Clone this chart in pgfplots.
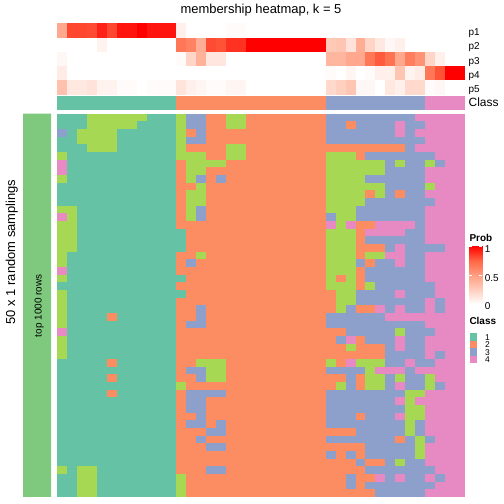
\documentclass[border=0pt]{standalone}
\usepackage{fontspec}
\setmainfont{Liberation Sans}
\usepackage{pgfplots}
\usepackage{pgfplotstable}
\pgfplotsset{compat=1.18}

\definecolor{leftgreen}{RGB}{127,201,127}

\pgfplotsset{
  colormap={cls}{rgb255(0cm)=(102,194,165) rgb255(1cm)=(252,141,98) rgb255(2cm)=(141,160,203) rgb255(3cm)=(231,138,195) rgb255(4cm)=(166,216,84)},
  colormap={prob}{rgb255(0cm)=(255,255,255) rgb255(1cm)=(255,207,191) rgb255(2cm)=(255,158,129) rgb255(3cm)=(255,104,70) rgb255(4cm)=(255,0,0)},
}

\pgfdeclareplotmark{hcell}{\pgfpathrectangle{\pgfpoint{-5.0bp}{-3.86bp}}{\pgfpoint{10.0bp}{7.72bp}}\pgfusepathqfill}
\pgfdeclareplotmark{pcell}{\pgfpathrectangle{\pgfpoint{-5.0bp}{-7.12bp}}{\pgfpoint{10.0bp}{14.24bp}}\pgfusepathqfill}
\pgfdeclareplotmark{ccell}{\pgfpathrectangle{\pgfpoint{-5.0bp}{-7.0bp}}{\pgfpoint{10.0bp}{14.0bp}}\pgfusepathqfill}
\pgfdeclareplotmark{lcell}{\pgfpathrectangle{\pgfpoint{-3.65bp}{-3.7bp}}{\pgfpoint{7.3bp}{7.4bp}}\pgfusepathqfill}

% membership classes: 50 samplings (rows) x 41 samples (columns); 5 = fifth class (green)
\pgfplotstableread[header=false]{
1 1 1 5 5 5 5 5 5 1 1 1  5 3 3 2 2 5 5 2 2 2 2 2 2 2 2  3 3 3 3 3 3 3 3 3 4  4 4 4 4
1 1 1 5 5 5 5 5 1 1 1 1  5 3 3 2 2 5 5 2 2 2 2 2 2 2 2  3 3 2 3 3 3 3 4 3 3  4 4 4 4
3 1 5 5 5 5 1 1 1 1 1 1  5 2 3 2 2 2 2 2 2 2 2 2 2 2 2  3 3 3 3 3 3 3 4 3 4  4 4 4 4
1 1 5 5 5 5 1 1 1 1 1 1  5 3 3 2 2 2 2 2 2 2 2 2 2 2 2  3 3 3 3 3 3 3 3 3 3  4 4 4 4
1 1 1 5 5 5 1 1 1 1 1 1  5 2 2 2 2 5 5 2 2 2 2 2 2 2 2  2 2 2 2 2 2 2 2 3 4  4 4 4 4
5 1 1 1 1 1 1 1 1 1 1 1  5 5 5 2 2 5 5 2 2 2 2 2 2 2 2  5 5 5 2 3 3 3 3 3 3  3 4 4 4
4 1 1 1 1 1 1 1 1 1 1 1  2 5 5 5 5 2 2 2 2 2 2 2 2 2 2  5 5 5 5 5 5 3 5 3 3  5 3 4 4
4 1 1 1 1 1 1 1 1 1 1 1  2 5 5 2 2 2 2 2 2 2 2 2 2 2 2  5 5 5 5 5 5 3 3 3 3  4 4 4 4
5 1 1 1 1 1 1 1 1 1 1 1  2 5 3 2 3 2 2 2 2 2 2 2 2 2 2  5 5 5 5 3 3 3 3 3 3  4 4 4 4
1 1 1 1 1 1 1 1 1 1 1 1  2 2 5 2 2 2 2 2 2 2 2 2 2 2 2  5 5 5 5 5 5 3 3 3 3  5 4 4 4
1 1 1 1 1 1 1 1 1 1 1 1  2 5 5 2 2 2 2 2 2 2 2 2 2 2 2  5 5 5 5 2 5 3 2 3 3  4 4 4 4
1 1 1 1 1 1 1 1 1 1 1 1  2 5 5 2 2 2 2 2 2 2 2 2 2 2 2  5 5 5 5 3 3 3 3 3 3  3 4 4 4
5 5 1 1 1 1 1 1 1 1 1 1  2 5 3 2 2 2 2 2 2 2 2 2 2 2 2  5 5 5 3 3 3 3 3 3 3  4 4 4 4
4 5 1 1 1 1 1 1 1 1 1 1  2 5 3 2 2 2 2 2 2 2 2 2 2 2 2  3 5 5 3 3 3 3 3 3 3  4 4 4 4
5 5 1 1 1 1 1 1 1 1 1 1  2 2 2 2 2 2 2 2 2 2 2 2 2 2 2  4 5 4 2 2 4 4 4 4 3  4 4 4 4
5 5 1 1 1 1 1 1 1 1 1 1  1 2 2 2 2 2 2 2 2 2 2 2 2 2 2  5 5 5 2 4 4 4 4 3 3  4 4 4 4
5 5 1 1 1 1 1 1 1 1 1 1  1 2 2 2 2 2 2 2 2 2 2 2 2 2 2  5 5 5 2 3 3 3 3 3 3  4 4 4 4
5 5 1 1 1 1 1 1 1 1 1 1  1 2 2 2 2 2 2 2 2 2 2 2 2 2 2  5 5 5 2 2 2 3 4 3 3  3 3 4 4
5 1 1 1 1 1 1 1 1 1 1 1  2 2 5 2 2 2 2 2 2 2 2 2 2 2 2  5 5 5 2 5 5 4 4 3 3  4 4 4 4
5 1 1 1 1 1 1 1 1 1 1 1  2 3 2 2 2 2 2 2 2 2 2 2 2 2 2  5 5 5 3 2 3 3 4 3 3  4 4 4 4
4 1 1 1 1 1 1 1 1 1 1 1  2 2 2 2 2 2 2 2 2 2 2 2 2 2 2  5 5 5 2 3 3 3 3 3 3  4 4 4 4
5 1 1 1 1 1 1 1 1 1 1 1  1 2 2 2 2 2 2 2 2 2 2 2 2 2 2  5 2 5 2 3 3 3 3 3 3  4 4 4 4
1 1 1 1 1 1 1 1 1 1 1 1  2 2 2 2 2 2 2 2 2 2 2 2 2 2 2  5 5 5 2 5 3 3 3 3 3  3 4 4 4
5 1 1 1 1 1 1 1 1 1 1 1  1 2 2 2 2 2 2 2 2 2 2 2 2 2 2  2 5 5 3 3 3 3 4 3 3  3 4 4 4
5 1 1 1 1 1 1 1 1 1 1 1  2 2 2 2 2 2 2 2 2 2 2 2 2 2 2  2 5 5 3 3 3 3 3 3 3  4 3 4 4
5 1 1 1 1 1 1 1 1 1 1 1  2 2 3 2 2 2 2 2 2 2 2 2 2 2 2  2 5 3 2 2 4 3 4 3 3  4 3 4 4
5 1 1 1 1 2 1 1 1 1 1 1  2 2 3 2 2 2 2 2 2 2 2 2 2 2 2  3 3 3 3 3 3 4 4 4 4  4 4 4 4
5 1 1 1 1 1 1 1 1 1 1 1  2 3 3 2 2 2 2 2 2 2 2 2 2 2 2  3 3 3 3 3 3 3 3 3 3  4 4 4 4
4 1 1 1 1 1 1 1 1 1 1 1  2 2 2 2 2 2 2 2 2 2 2 2 2 2 2  2 2 3 3 3 3 3 5 3 3  3 4 4 4
5 1 1 1 1 1 1 1 1 1 1 1  2 2 2 2 2 2 2 2 2 2 2 2 2 2 2  2 3 4 2 3 3 3 4 3 3  4 4 4 4
5 1 1 1 1 1 1 1 1 1 1 1  2 2 2 2 2 2 2 2 2 2 2 2 2 2 2  2 2 5 2 2 2 3 4 3 3  4 4 4 4
5 1 1 1 1 1 1 1 1 1 1 1  2 2 2 2 2 2 2 2 2 2 2 2 2 2 2  2 2 2 2 2 2 3 3 3 3  4 3 4 4
1 1 1 1 1 2 1 1 1 1 1 1  2 2 5 5 5 2 2 2 2 2 2 2 2 2 2  5 2 4 5 5 5 3 3 4 3  3 4 4 4
1 1 1 1 1 1 1 1 1 1 1 1  2 3 3 5 5 2 2 2 2 2 2 2 2 2 2  3 3 3 3 5 4 4 4 3 4  4 4 4 4
1 1 1 1 1 2 1 1 1 1 1 1  2 2 3 5 5 2 2 2 2 2 2 2 2 2 2  2 2 3 2 5 5 3 5 3 3  5 4 4 4
1 1 1 1 1 1 1 1 1 1 1 1  5 2 2 2 2 2 2 2 2 2 2 2 2 2 2  2 5 3 2 5 5 3 4 3 3  5 3 4 4
1 1 1 1 1 2 1 1 1 1 1 1  2 3 3 3 3 2 2 2 2 2 2 2 2 2 2  3 3 3 3 3 3 3 3 5 5  4 4 4 4
1 1 1 1 1 1 1 1 1 1 1 1  2 3 3 2 2 2 2 2 2 2 2 2 2 2 2  3 3 3 3 3 3 3 4 5 4  4 4 4 4
1 1 1 1 1 1 1 1 1 1 1 1  2 3 3 2 2 2 2 2 2 2 2 2 2 2 2  3 3 3 3 3 3 3 3 5 5  4 4 4 4
1 1 1 1 1 1 1 1 1 1 1 1  2 2 3 2 2 2 2 2 2 2 2 2 2 2 2  3 3 3 2 3 3 3 4 5 5  4 4 4 4
1 1 1 1 1 1 1 1 1 1 1 1  2 3 3 2 3 2 2 2 2 2 2 2 2 2 2  3 3 3 3 3 3 3 3 5 3  4 4 4 4
1 1 1 1 1 1 1 1 1 1 1 1  2 2 2 3 3 2 2 2 2 2 2 2 2 2 2  2 2 2 3 3 3 3 3 5 3  4 4 4 4
1 1 1 1 1 1 1 1 1 1 1 1  2 2 3 2 2 2 2 2 2 2 2 2 2 2 2  3 3 3 3 3 3 3 2 3 5  3 4 4 4
1 1 1 1 1 1 1 1 1 1 1 1  2 2 2 3 3 2 2 2 2 2 2 2 2 2 2  2 2 2 2 3 3 3 3 3 5  4 4 4 4
1 1 1 1 1 1 1 1 1 1 1 1  2 2 2 2 2 2 2 2 2 2 2 2 2 2 2  3 2 3 2 3 3 3 3 3 5  4 4 4 4
1 1 1 1 1 1 1 1 1 1 1 1  2 2 2 2 2 2 2 2 2 2 2 2 2 2 2  2 2 2 3 2 2 3 5 3 3  4 4 4 4
5 1 5 5 1 1 1 1 1 1 1 1  2 2 2 3 3 2 2 2 2 2 2 2 2 2 2  2 2 2 2 3 3 3 3 3 3  3 4 4 4
1 1 5 5 1 1 1 1 1 1 1 1  5 2 2 2 2 2 2 2 2 2 2 2 2 2 2  2 2 3 2 2 4 3 4 3 3  4 3 4 4
1 1 5 5 1 1 1 1 1 1 1 1  5 2 2 2 2 2 2 2 2 2 2 2 2 2 2  2 2 3 2 3 3 3 3 3 3  3 4 4 4
1 1 5 5 1 1 1 1 1 1 1 1  5 2 2 2 2 2 2 2 2 2 2 2 2 2 2  2 2 2 2 2 3 3 3 3 3  4 4 4 4
}\heat

% membership probabilities p1..p5 (rows) x 41 samples
\pgfplotstableread[header=false]{
0.45 0.83 0.83 0.82 0.92 0.83 0.95 0.95 1 0.95 0.95 0.95  0.08 0 0 0 0 0.02 0.02 0 0 0 0 0 0 0 0  0 0 0 0 0 0 0 0 0 0  0 0 0 0
0 0 0 0 0.06 0 0 0 0 0 0 0  0.68 0.63 0.42 0.82 0.8 0.88 0.88 1 1 1 1 1 1 1 1  0.28 0.3 0.15 0.42 0.22 0.12 0.04 0.08 0 0  0 0 0 0
0.04 0 0 0 0 0 0 0 0 0 0 0  0.02 0.22 0.4 0.13 0.13 0 0 0 0 0 0 0 0 0 0  0.38 0.38 0.45 0.45 0.68 0.78 0.7 0.45 0.65 0.55  0.22 0.08 0 0
0.1 0 0 0 0 0 0 0 0 0 0 0  0 0 0 0 0 0 0 0 0 0 0 0 0 0 0  0.02 0 0.05 0 0.02 0.08 0.08 0.3 0.06 0.1  0.68 0.8 1 1
0.32 0.12 0.12 0.15 0.06 0.06 0.02 0.02 0 0.02 0.02 0.02  0.14 0.08 0.05 0.02 0.02 0.05 0.05 0 0 0 0 0 0 0 0  0.2 0.25 0.3 0.04 0.04 0 0.12 0.08 0.2 0.2  0.02 0.04 0 0
}\probtab

\begin{document}
\begin{tikzpicture}
\useasboundingbox (0,0) rectangle (504bp,504bp);

% main membership heatmap
\begin{axis}[at={(57bp,7bp)}, anchor=south west, scale only axis,
  width=408bp, height=383.3bp, xmin=-0.5, xmax=40.5, ymin=-0.5, ymax=49.5,
  y dir=reverse, hide axis, colormap name=cls, point meta min=1, point meta max=5]
\pgfplotsinvokeforeach{0,...,40}{
  \addplot[scatter, only marks, mark=hcell, point meta=explicit]
    table[x expr=#1, y expr=\coordindex, meta index=#1] {\heat};
}
\end{axis}

% probability annotation
\begin{axis}[at={(57bp,409.5bp)}, anchor=south west, scale only axis,
  width=408bp, height=71bp, xmin=-0.5, xmax=40.5, ymin=-0.5, ymax=4.5,
  y dir=reverse, hide axis, colormap name=prob, point meta min=0, point meta max=1]
\pgfplotsinvokeforeach{0,...,40}{
  \addplot[scatter, only marks, mark=pcell, point meta=explicit]
    table[x expr=#1, y expr=\coordindex, meta index=#1] {\probtab};
}
\end{axis}

% class annotation
\begin{axis}[at={(57bp,394bp)}, anchor=south west, scale only axis,
  width=408bp, height=14bp, xmin=-0.5, xmax=40.5, ymin=-0.5, ymax=0.5,
  hide axis, colormap name=cls, point meta min=1, point meta max=5]
\addplot[scatter, only marks, mark=ccell, point meta=explicit] coordinates {
(0,0)[1] (1,0)[1] (2,0)[1] (3,0)[1] (4,0)[1] (5,0)[1] (6,0)[1] (7,0)[1] (8,0)[1] (9,0)[1] (10,0)[1] (11,0)[1]
(12,0)[2] (13,0)[2] (14,0)[2] (15,0)[2] (16,0)[2] (17,0)[2] (18,0)[2] (19,0)[2] (20,0)[2] (21,0)[2] (22,0)[2] (23,0)[2] (24,0)[2] (25,0)[2] (26,0)[2]
(27,0)[3] (28,0)[3] (29,0)[3] (30,0)[3] (31,0)[3] (32,0)[3] (33,0)[3] (34,0)[3] (35,0)[3] (36,0)[3]
(37,0)[4] (38,0)[4] (39,0)[4] (40,0)[4]
};
\end{axis}

% left row annotation bar
\begin{axis}[at={(23bp,7bp)}, anchor=south west, scale only axis,
  width=28bp, height=383.3bp, xmin=0, xmax=1, ymin=0, ymax=1, hide axis]
\addplot[fill=leftgreen, draw=none] coordinates {(0,0) (1,0) (1,1) (0,1) (0,0)};
\end{axis}

% Prob colour bar
\begin{axis}[at={(469.3bp,200bp)}, anchor=south west, scale only axis,
  width=12.7bp, height=57.5bp, xmin=0, xmax=1, ymin=0, ymax=1,
  axis on top, axis line style={draw=none}, xtick=\empty,
  ytick={0,0.5,1}, yticklabels={0,0.5,1}, yticklabel pos=right, ytick pos=both,
  tick align=inside, major tick length=3bp,
  ytick style={draw=white, line width=0.8bp},
  yticklabel style={font=\fontsize{10}{12}\selectfont, inner sep=0pt, anchor=west, xshift=2.7bp, yshift=-2.5bp},
  colormap name=prob, point meta min=0, point meta max=1]
\addplot[surf, shader=interp, mesh/cols=2, point meta=explicit] table[meta=c] {
x y c
0 0 0
1 0 0
0 0.25 0.25
1 0.25 0.25
0 0.5 0.5
1 0.5 0.5
0 0.75 0.75
1 0.75 0.75
0 1 1
1 1 1
};
\end{axis}

% Class legend
\begin{axis}[at={(470bp,140.7bp)}, anchor=south west, scale only axis,
  width=7.3bp, height=30bp, xmin=-0.5, xmax=0.5, ymin=-0.5, ymax=3.5,
  y dir=reverse, axis line style={draw=none}, xtick=\empty,
  ytick={0,1,2,3}, yticklabels={1,2,3,4}, yticklabel pos=right,
  major tick length=0pt, ytick style={draw=none},
  yticklabel style={font=\fontsize{8.5}{9}\selectfont, inner sep=0pt, anchor=west, xshift=7.5bp, text height=6.1bp, text depth=0pt},
  colormap name=cls, point meta min=1, point meta max=5]
\addplot[scatter, only marks, mark=lcell, point meta=explicit] coordinates {(0,0)[1] (0,1)[2] (0,2)[3] (0,3)[4]};
\end{axis}

% texts
\node[anchor=base, inner sep=0pt, font=\fontsize{13}{15}\selectfont] at (261bp,490bp) {membership heatmap, k = 5};
\node[rotate=90, anchor=base, inner sep=0pt, font=\fontsize{13}{15}\selectfont] at (15bp,252bp) {50 x 1 random samplings};
\node[rotate=90, anchor=base, inner sep=0pt, font=\fontsize{10}{12}\selectfont] at (41.5bp,198.2bp) {top 1000 rows};
\node[anchor=base west, inner sep=0pt, font=\fontsize{10}{12}\selectfont] at (468.5bp,468.3bp) {p1};
\node[anchor=base west, inner sep=0pt, font=\fontsize{10}{12}\selectfont] at (468.5bp,454.1bp) {p2};
\node[anchor=base west, inner sep=0pt, font=\fontsize{10}{12}\selectfont] at (468.5bp,439.9bp) {p3};
\node[anchor=base west, inner sep=0pt, font=\fontsize{10}{12}\selectfont] at (468.5bp,425.7bp) {p4};
\node[anchor=base west, inner sep=0pt, font=\fontsize{10}{12}\selectfont] at (468.5bp,411.5bp) {p5};
\node[anchor=base west, inner sep=0pt, font=\fontsize{12}{14}\selectfont] at (468.5bp,397.3bp) {Class};
\node[anchor=base west, inner sep=0pt, font=\bfseries\fontsize{10}{12}\selectfont] at (469.3bp,262.3bp) {Prob};
\node[anchor=base west, inner sep=0pt, font=\bfseries\fontsize{10}{12}\selectfont] at (469.3bp,179bp) {Class};
\end{tikzpicture}
\end{document}
